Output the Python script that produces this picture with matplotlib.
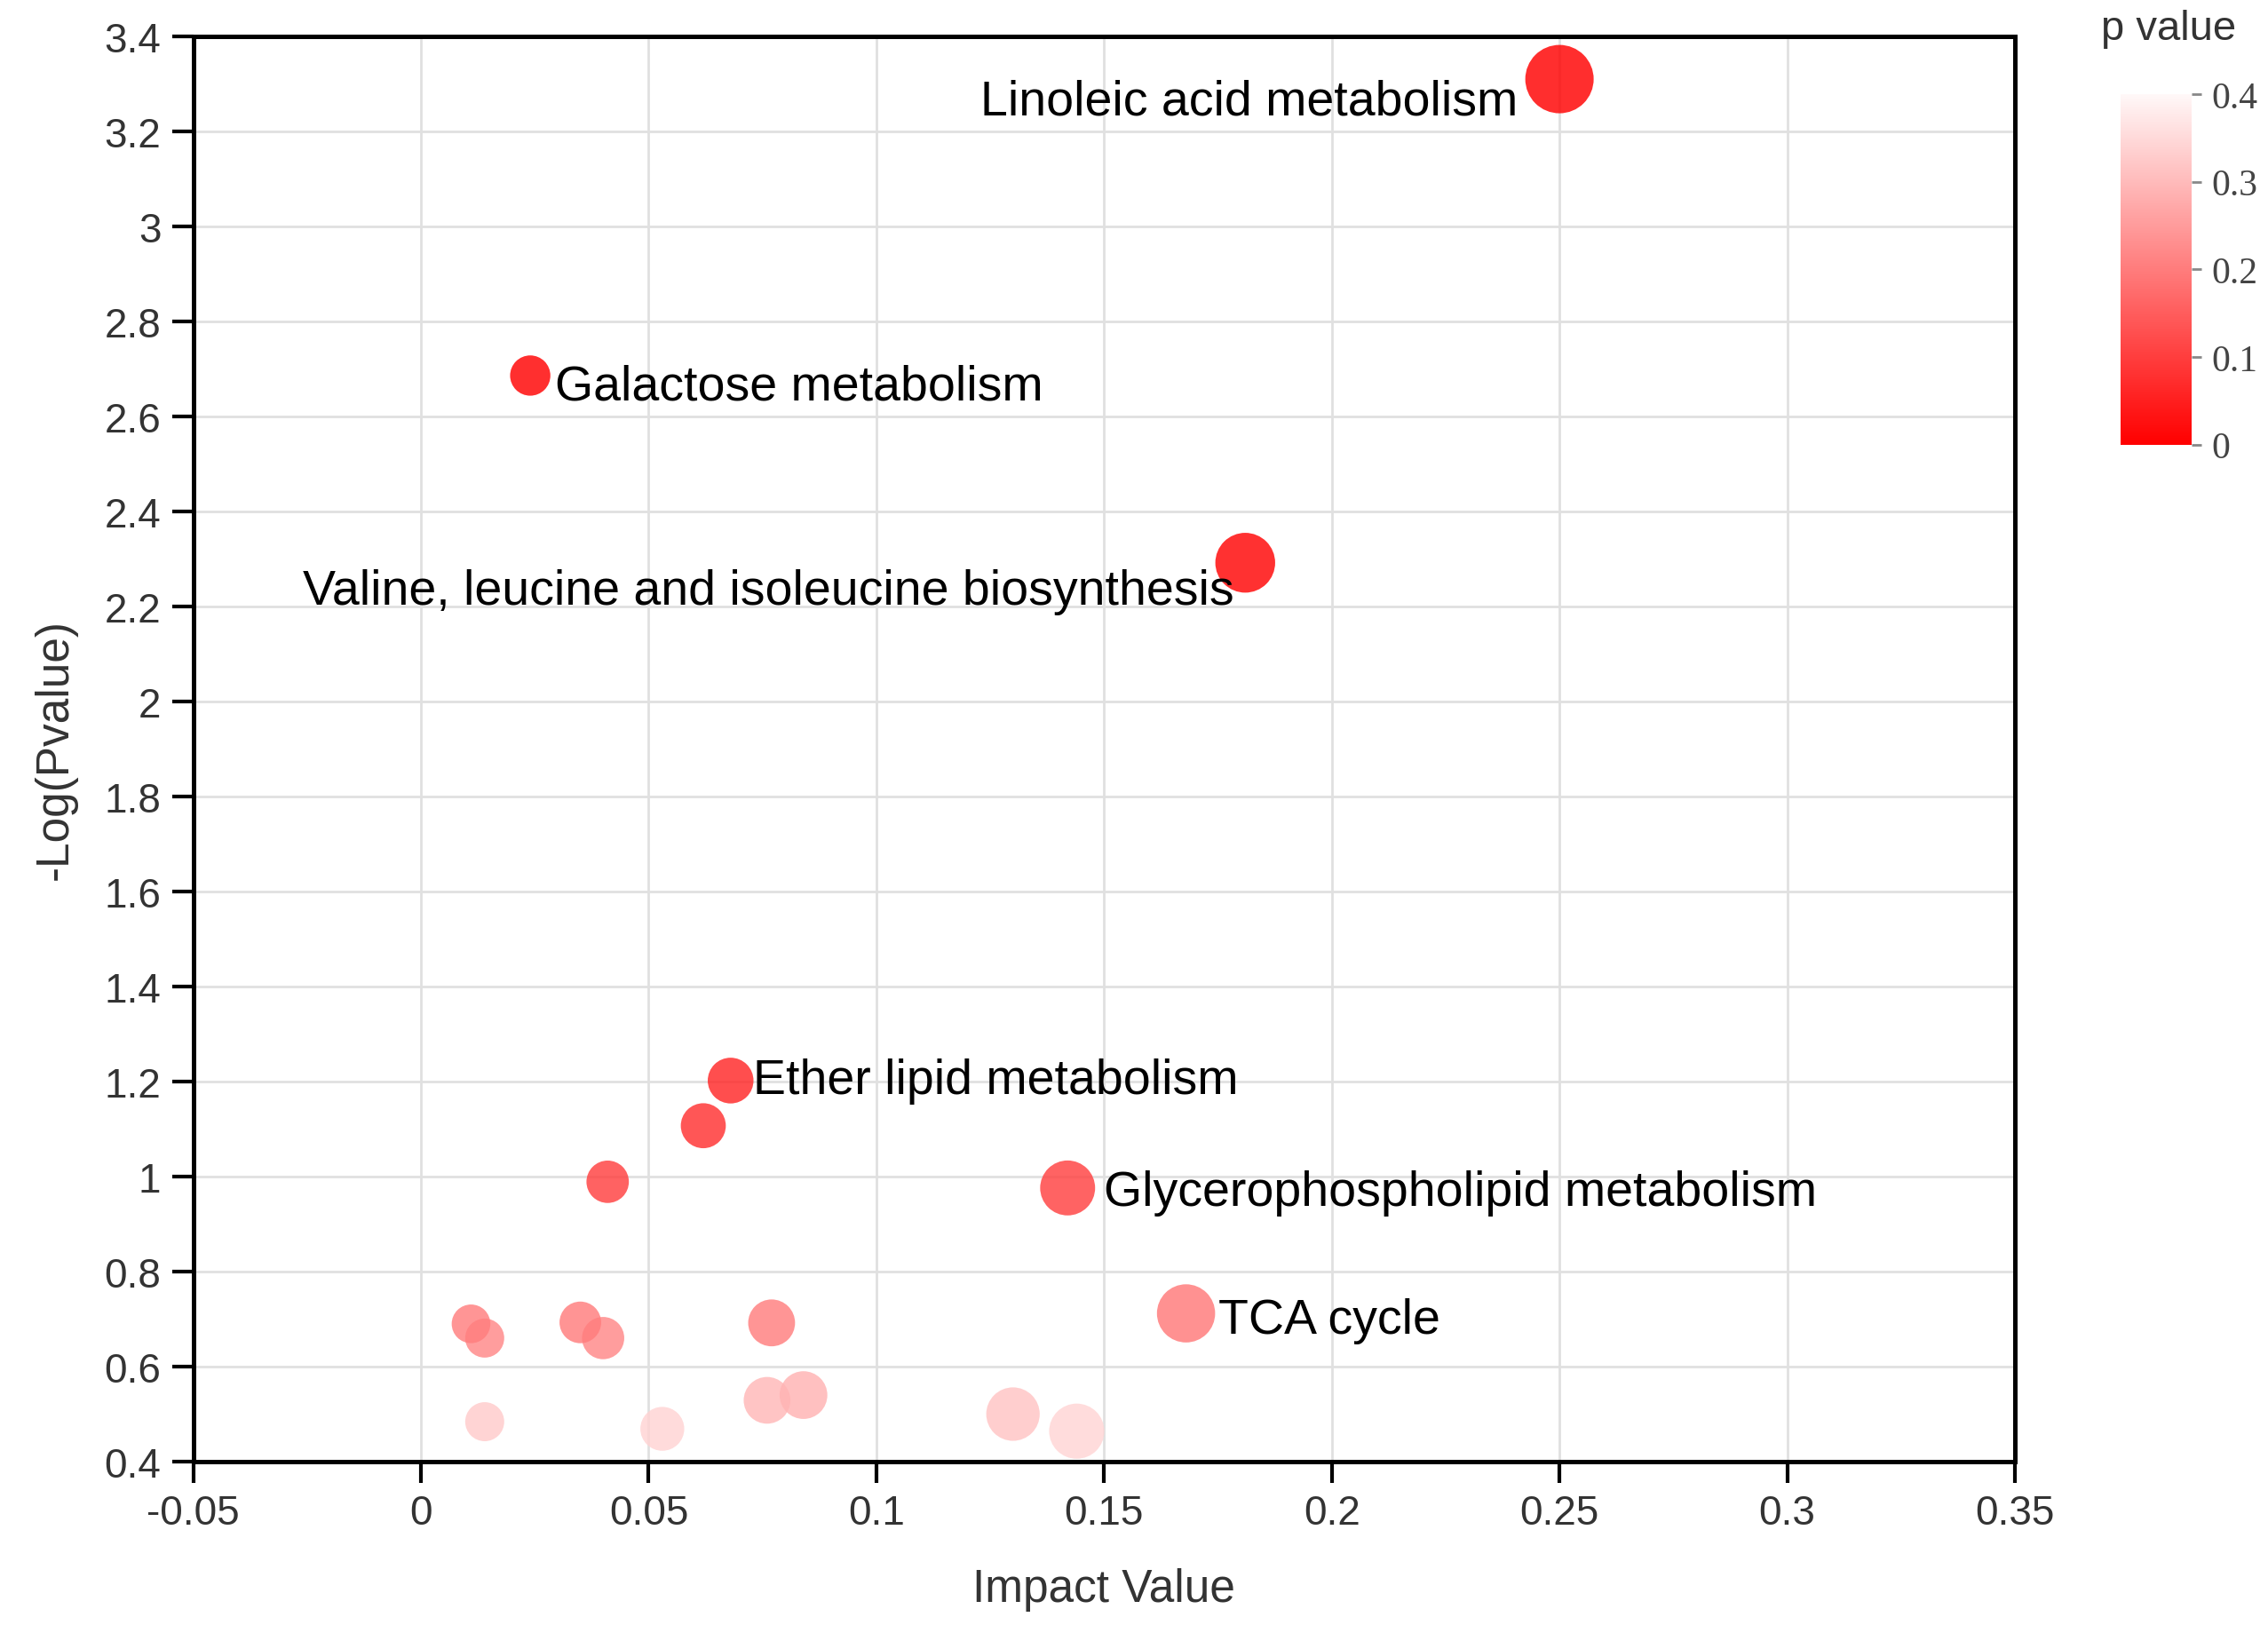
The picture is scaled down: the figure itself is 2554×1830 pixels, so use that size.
import numpy as np
import matplotlib
matplotlib.use('Agg')
import matplotlib.pyplot as plt
from matplotlib.colors import LinearSegmentedColormap, Normalize
from matplotlib.cm import ScalarMappable

# pathway data
pathways = ['Linoleic acid metabolism', 'Galactose metabolism',
            'Valine, leucine and isoleucine biosynthesis', 'Ether lipid metabolism',
            '', '', 'Glycerophospholipid metabolism', 'TCA cycle',
            '', '', '', '', '', '', '', '', '', '', '']
impact = [0.250, 0.024, 0.181, 0.068, 0.062, 0.041, 0.142, 0.168,
          0.011, 0.014, 0.035, 0.040, 0.077, 0.076, 0.084, 0.014, 0.053, 0.130, 0.144]
neglogp = [3.31, 2.686, 2.292, 1.202, 1.107, 0.989, 0.976, 0.712,
           0.690, 0.660, 0.693, 0.660, 0.692, 0.529, 0.540, 0.484, 0.469, 0.500, 0.464]

xticks = [-0.05, 0, 0.05, 0.1, 0.15, 0.2, 0.25, 0.3, 0.35]
yticks = [0.4, 0.6, 0.8, 1, 1.2, 1.4, 1.6, 1.8, 2, 2.2, 2.4, 2.6, 2.8, 3, 3.2, 3.4]
cbar_ticks = [0, 0.1, 0.2, 0.3, 0.4]

# label placement (offset in points from the bubble, horizontal alignment)
label_pos = {
    'Linoleic acid metabolism': (-34, -18, 'right'),
    'Galactose metabolism': (20, -9, 'left'),
    'Valine, leucine and isoleucine biosynthesis': (-9, -23, 'right'),
    'Ether lipid metabolism': (18, 0, 'left'),
    'Glycerophospholipid metabolism': (29, -4, 'left'),
    'TCA cycle': (26, -6, 'left'),
}

plt.rcParams['font.family'] = ['Liberation Sans', 'DejaVu Sans']

impact = np.array(impact)
neglogp = np.array(neglogp)
pvals = 10 ** (-neglogp)

cmap = LinearSegmentedColormap.from_list('pv', ['#ff0000', '#fff8f8'])
norm = Normalize(vmin=0, vmax=0.4)

fig = plt.figure(figsize=(25.54, 18.31), dpi=100)
ax = fig.add_axes([0.0852, 0.1005, 0.8032, 0.8766])

# bubble diameter grows with impact (pixels -> points)
diam = (42 + 140 * impact) * 0.72
order = np.argsort(-pvals)
ax.scatter(impact[order], neglogp[order], s=diam[order] ** 2, c=pvals[order],
           cmap=cmap, norm=norm, alpha=0.82, linewidths=0, zorder=3)

for name, x, y in zip(pathways, impact, neglogp):
    if not name:
        continue
    dx, dy, ha = label_pos[name]
    ax.annotate(name, (x, y), xytext=(dx, dy), textcoords='offset points',
                ha=ha, va='center', fontsize=40, color='black', zorder=4)

ax.set_xlim(-0.05, 0.35)
ax.set_ylim(0.4, 3.4)
ax.set_xticks(xticks)
ax.set_yticks(yticks)
ax.set_xticklabels(['{:g}'.format(t) for t in xticks])
ax.set_yticklabels(['{:g}'.format(t) for t in yticks])
ax.grid(True, color='#e0e0e0', lw=2)
ax.set_axisbelow(True)
for sp in ax.spines.values():
    sp.set_linewidth(3.6)
    sp.set_color('black')
ax.tick_params(direction='out', length=17, width=3, labelsize=33,
               labelcolor='#333333', pad=9)
ax.set_xlabel('Impact Value', fontsize=37, color='#333333', labelpad=28)
ax.set_ylabel('-Log(Pvalue)', fontsize=37, color='#333333', labelpad=22)

# colour bar
cax = fig.add_axes([0.935, 0.726, 0.0313, 0.2156])
sm = ScalarMappable(norm=norm, cmap=cmap)
cb = fig.colorbar(sm, cax=cax, ticks=cbar_ticks)
cb.outline.set_visible(False)
cb.ax.set_yticklabels(['{:g}'.format(t) for t in cbar_ticks])
cb.ax.tick_params(length=8, width=2, color='#888888', labelsize=30,
                  labelcolor='#444444', pad=8)
for lab in cb.ax.get_yticklabels():
    lab.set_family('Liberation Serif')
fig.text(0.956, 0.982, 'p value', ha='center', va='center', fontsize=34, color='#333333')

fig.savefig('out.png', dpi=100)
